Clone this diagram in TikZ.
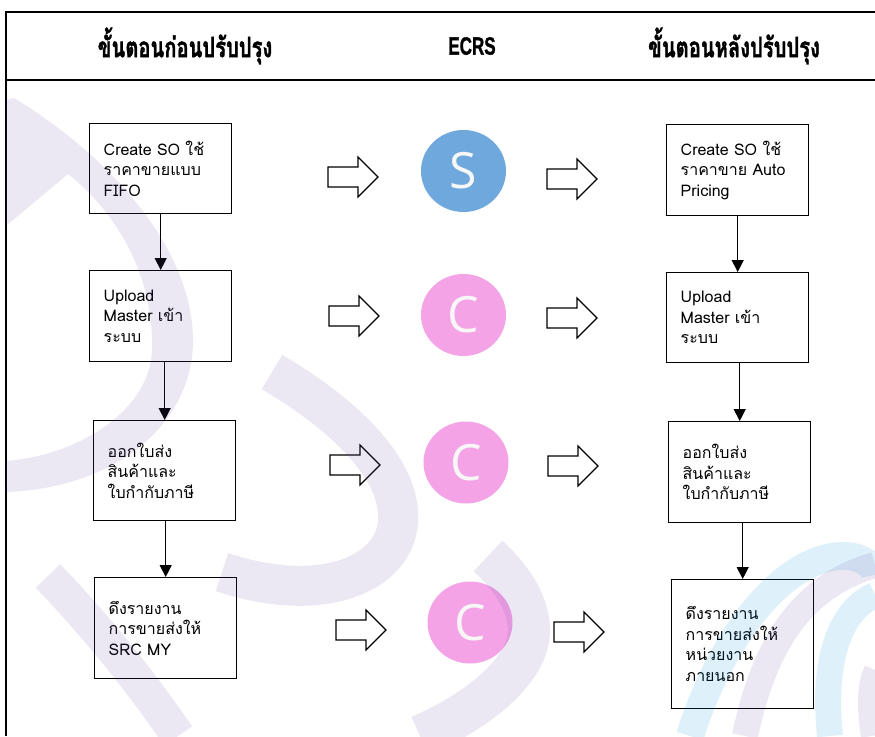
\documentclass[tikz,border=0pt]{standalone}
\usepackage{fontspec}
\usetikzlibrary{arrows.meta,shapes.geometric}
\setmainfont{Liberation Sans}
\newfontfamily\thaifont[Script=Thai]{Loma}
\newfontfamily\thaihead[Script=Thai,FakeBold=1.6]{Loma}
\newfontfamily\headlatin[BoldFeatures={FakeBold=1.5}]{Liberation Sans}
\newfontfamily\circfont{Open Sans}
\definecolor{sblue}{RGB}{111,168,220}
\definecolor{cpink}{RGB}{244,164,230}
\definecolor{wmpurple}{RGB}{102,68,162}
\definecolor{wmcyan}{RGB}{0,150,220}

\tikzset{
  frameline/.style={line width=1.8pt},
  stepbox/.style={draw, line width=1.4pt, rectangle, anchor=north west,
    inner xsep=14pt, inner ysep=0pt, text width=114pt, align=left,
    font=\thaifont\fontsize{16}{20.5}\selectfont},
  flow/.style={line width=1.3pt, -{Triangle[width=12pt,length=12pt]}},
  letter/.style={ellipse, inner sep=0pt, minimum width=85pt, minimum height=82pt,
    text=white!97!black, font=\circfont\fontsize{50}{50}\selectfont},
  title/.style={font=\thaihead\bfseries\fontsize{28}{28}\selectfont},
  band/.style={draw=wmpurple, opacity=0.12, line cap=butt},
  bandfill/.style={fill=wmpurple, opacity=0.12},
  cband/.style={draw=wmcyan, opacity=0.13, line cap=butt},
  pics/blockarrow/.style={code={
    \draw[line width=1.2pt, line join=miter, fill=white]
      (0,-10) -- (30,-10) -- (30,-20) -- (50,0) -- (30,20) -- (30,10) -- (0,10) -- cycle;}}
}

\begin{document}
\begin{tikzpicture}[x=1pt,y=-1pt]
\useasboundingbox (0,0) rectangle (875,736);
\fill[white] (0,0) rectangle (875,736);

% table frame and header row
\draw[frameline] (875,12) -- (6,12) -- (6,736);
\draw[frameline] (6,80) -- (875,80);
\node[title] (hbefore) at (185,46) {\scalebox{0.72}[1]{ขั้นตอนก่อนปรับปรุง}};
\node[font=\headlatin\bfseries\fontsize{25}{25}\selectfont] (hecrs) at (472,46) {\scalebox{0.68}[1]{ECRS}};
\node[title] (hafter) at (734,46) {\scalebox{0.72}[1]{ขั้นตอนหลังปรับปรุง}};

% process before improvement
\node[stepbox, minimum height=90pt] (L1) at (89,123) {Create SO ใช้\\ราคาขายแบบ\\FIFO};
\node[stepbox, minimum height=91pt] (L2) at (89,270) {Upload\\Master เข้า\\ระบบ};
\node[stepbox, minimum height=100pt] (L3) at (93,420) {ออกใบส่ง\\สินค้าและ\\ใบกำกับภาษี};
\node[stepbox, minimum height=101pt] (L4) at (94,577) {ดึงรายงาน\\การขายส่งให้\\SRC MY};

% process after improvement
\node[stepbox, minimum height=91pt] (R1) at (666,124) {Create SO ใช้\\ราคาขาย Auto\\Pricing};
\node[stepbox, minimum height=90pt] (R2) at (666,272) {Upload\\Master เข้า\\ระบบ};
\node[stepbox, minimum height=101pt] (R3) at (668,421) {ออกใบส่ง\\สินค้าและ\\ใบกำกับภาษี};
\node[stepbox, minimum height=129pt] (R4) at (671,579) {ดึงรายงาน\\การขายส่งให้\\หน่วยงาน\\ภายนอก};

\draw[flow] (L1.south) -- (L2.north);
\draw[flow] (L3.north |- L2.south) -- (L3.north);
\draw[flow] (L4.north |- L3.south) -- (L4.north);
\draw[flow] (R1.south) -- (R2.north);
\draw[flow] (R3.north |- R2.south) -- (R3.north);
\draw[flow] (R4.north |- R3.south) -- (R4.north);

% ECRS letters
\node[letter, fill=sblue] (eS) at (463.5,171) {S};
\node[letter, fill=cpink] (eC1) at (463.5,315) {C};
\node[letter, fill=cpink] (eC2) at (466,462.5) {C};
\node[letter, fill=cpink] (eC3) at (470,622.5) {C};

% block arrows
\pic at (328,177) {blockarrow};
\pic at (547,179) {blockarrow};
\pic at (329,316) {blockarrow};
\pic at (547,318) {blockarrow};
\pic at (330,465) {blockarrow};
\pic at (548,466) {blockarrow};
\pic at (336,630) {blockarrow};
\pic at (554,632) {blockarrow};

% faint background emblem: large curved stroke on the left
\fill[bandfill] (6,100) -- (14,98) .. controls (100,150) and (190,240) .. (193,337)
  .. controls (195,420) and (120,488) .. (6,492) -- (6,461)
  .. controls (80,455) and (150,410) .. (152,350)
  .. controls (154,280) and (120,215) .. (68,174) -- (6,226) -- cycle;
% smaller curved stroke in the middle
\draw[band, line width=40pt] (272,372) .. controls (345,415) and (402,470) .. (398,522)
  .. controls (394,575) and (320,605) .. (222,572);
% lower strokes
\draw[band, line width=34pt] (48,576) .. controls (95,625) and (140,680) .. (178,736);
\draw[band, line width=42pt] (488,556) .. controls (525,590) and (542,630) .. (517,665)
  .. controls (497,695) and (457,720) .. (420,736);
% swirl in the lower right corner
\draw[cband, line width=28pt] (690,736) .. controls (720,640) and (780,560) .. (840,556) .. controls (860,555) and (875,565) .. (875,575);
\draw[band, line width=26pt] (745,736) .. controls (765,640) and (805,585) .. (875,565);
\draw[cband, line width=26pt] (830,736) .. controls (822,660) and (840,610) .. (875,595);
\draw[band, line width=22pt] (872,736) .. controls (866,700) and (870,680) .. (875,670);
\end{tikzpicture}
\end{document}
